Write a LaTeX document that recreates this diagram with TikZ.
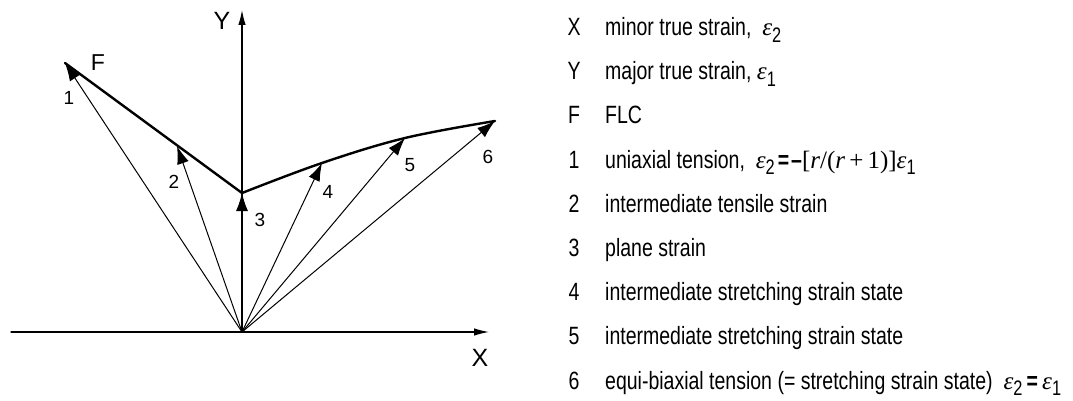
\documentclass[tikz,border=0pt]{standalone}
\usepackage{fontspec}
\setmainfont{Liberation Sans}
\newfontfamily\legendfont{Liberation Sans}[FakeStretch=0.78]
\newfontfamily\epsfont{Liberation Serif}
\usetikzlibrary{arrows.meta,positioning}
\newcommand\strainsym[1]{{\epsfont\itshape\fontsize{25}{25}\selectfont ε}\raisebox{-0.27em}{\fontsize{21}{21}\selectfont #1}}

\begin{document}
\begin{tikzpicture}[x=1pt,y=-1pt,line cap=round,
axis/.style={line width=1.1pt,-{Latex[length=15pt,width=7.5pt]}},
vec/.style={line width=1pt,-{Latex[length=18pt,width=12pt]}},
flc/.style={line width=2.4pt,line join=round},
lbl/.style={inner sep=0pt,font=\fontsize{19}{19}\selectfont},
axlbl/.style={inner sep=0pt,font=\fontsize{25}{25}\selectfont},
key/.style={inner sep=0pt,anchor=base,font=\legendfont\fontsize{25}{25}\selectfont},
entry/.style={inner sep=0pt,anchor=base west,font=\legendfont\fontsize{25}{25}\selectfont}]
\useasboundingbox (0,0) rectangle (1073,401);
% origin and strain states on the FLC
\coordinate (O) at (242,332);
\coordinate (p1) at (65,63);
\coordinate (p2) at (177,146);
\coordinate (p3) at (242,193);
\coordinate (p4) at (322,163);
\coordinate (p5) at (405,138);
\coordinate (p6) at (495,121);
\coordinate (xl) at (11,332);
\coordinate (xr) at (489,332);
\coordinate (yt) at (242,10);
% axes
\draw[axis] (xl) -- (xr);
\draw[axis] (O) -- (yt);
\node[axlbl] (ylab) at (222,21) {Y};
\node[axlbl] (xlab) at (480,358) {X};
% forming limit curve
\draw[flc] (p1) -- (p3) plot[smooth,tension=0.6] coordinates {(p3) (p4) (p5) (p6)};
\node[axlbl,font=\fontsize{23}{23}\selectfont] (flab) at (98,63) {F};
% strain paths
\foreach \i in {1,...,6}
  \draw[vec] (O) -- (p\i);
\node[lbl] (n1) at (69,98) {1};
\node[lbl] (n2) at (174,182) {2};
\node[lbl] (n3) at (260,220) {3};
\node[lbl] (n4) at (328,192) {4};
\node[lbl] (n5) at (410,165) {5};
\node[lbl] (n6) at (488,157) {6};
% legend
\foreach \k/\t [count=\r from 0] in {X/{minor true strain,\ \ \strainsym{2}},
  Y/{major true strain, \strainsym{1}},
  F/FLC,
  1/{uniaxial tension,\ \ \strainsym{2}\kern3pt\textbf{=}\kern2pt\textbf{–}{\epsfont[{\itshape r}/({\itshape r}\,+\,1)]}\strainsym{1}},
  2/intermediate tensile strain,
  3/plane strain,
  4/intermediate stretching strain state,
  5/intermediate stretching strain state,
  6/{equi-biaxial tension (= stretching strain state)\ \ \strainsym{2}\,\textbf{=}\,\strainsym{1}}}{
  \node[key] (k\r) at (574,35.5+44.2*\r) {\k};
  \node[entry] (t\r) at (605,35.5+44.2*\r) {\t};
}
\end{tikzpicture}
\end{document}
